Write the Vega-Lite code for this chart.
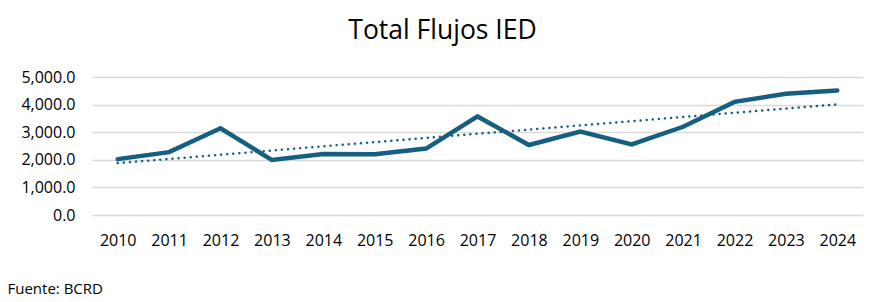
{
  "$schema": "https://vega.github.io/schema/vega-lite/v6.json",
  "autosize": {"type": "none"},
  "padding": {"left": 92, "top": 77, "right": 23, "bottom": 87},
  "width": 771,
  "height": 138,
  "background": "white",
  "config": {"font": "Open Sans", "view": {"stroke": null}},
  "title": {
    "text": "Total Flujos IED",
    "anchor": "middle",
    "dx": -35,
    "fontSize": 26.5,
    "fontWeight": "normal",
    "color": "#000000",
    "baseline": "alphabetic",
    "offset": 3.5
  },
  "data": {
    "values": [
      {"year": 2010, "ied": 2024},
      {"year": 2011, "ied": 2277},
      {"year": 2012, "ied": 3142},
      {"year": 2013, "ied": 1991},
      {"year": 2014, "ied": 2209},
      {"year": 2015, "ied": 2205},
      {"year": 2016, "ied": 2407},
      {"year": 2017, "ied": 3571},
      {"year": 2018, "ied": 2535},
      {"year": 2019, "ied": 3021},
      {"year": 2020, "ied": 2560},
      {"year": 2021, "ied": 3197},
      {"year": 2022, "ied": 4099},
      {"year": 2023, "ied": 4390},
      {"year": 2024, "ied": 4512}
    ]
  },
  "encoding": {
    "x": {
      "field": "year",
      "type": "ordinal",
      "scale": {"type": "point", "padding": 0.5, "domain": [2010,2011,2012,2013,2014,2015,2016,2017,2018,2019,2020,2021,2022,2023,2024]},
      "axis": {
        "title": "Fuente: BCRD",
        "titleX": -85,
        "titleY": 78,
        "titleAlign": "left",
        "titleAnchor": "start",
        "titleBaseline": "alphabetic",
        "titleFontSize": 15,
        "titleFontWeight": "normal",
        "titleColor": "#000000",
        "labelAngle": 0,
        "labelFontSize": 16,
        "labelColor": "#000000",
        "labelPadding": 17,
        "domain": false,
        "ticks": false,
        "grid": false
      }
    },
    "y": {
      "field": "ied",
      "type": "quantitative",
      "scale": {"domain": [0, 5000], "nice": false},
      "axis": {
        "title": null,
        "values": [0, 1000, 2000, 3000, 4000, 5000],
        "format": ",.1f",
        "labelFontSize": 16,
        "labelColor": "#000000",
        "labelPadding": 17,
        "domain": false,
        "ticks": false,
        "grid": true,
        "gridColor": "#d9d9d9",
        "gridWidth": 1.5
      }
    }
  },
  "layer": [
    {
      "mark": {"type": "line", "color": "#156082", "strokeWidth": 4.5, "strokeJoin": "miter", "strokeCap": "round"}
    },
    {
      "transform": [{"regression": "ied", "on": "year", "method": "linear"}],
      "mark": {"type": "line", "color": "#156082", "strokeWidth": 2.5, "strokeDash": [0.1, 6], "strokeCap": "round"}
    }
  ]
}
